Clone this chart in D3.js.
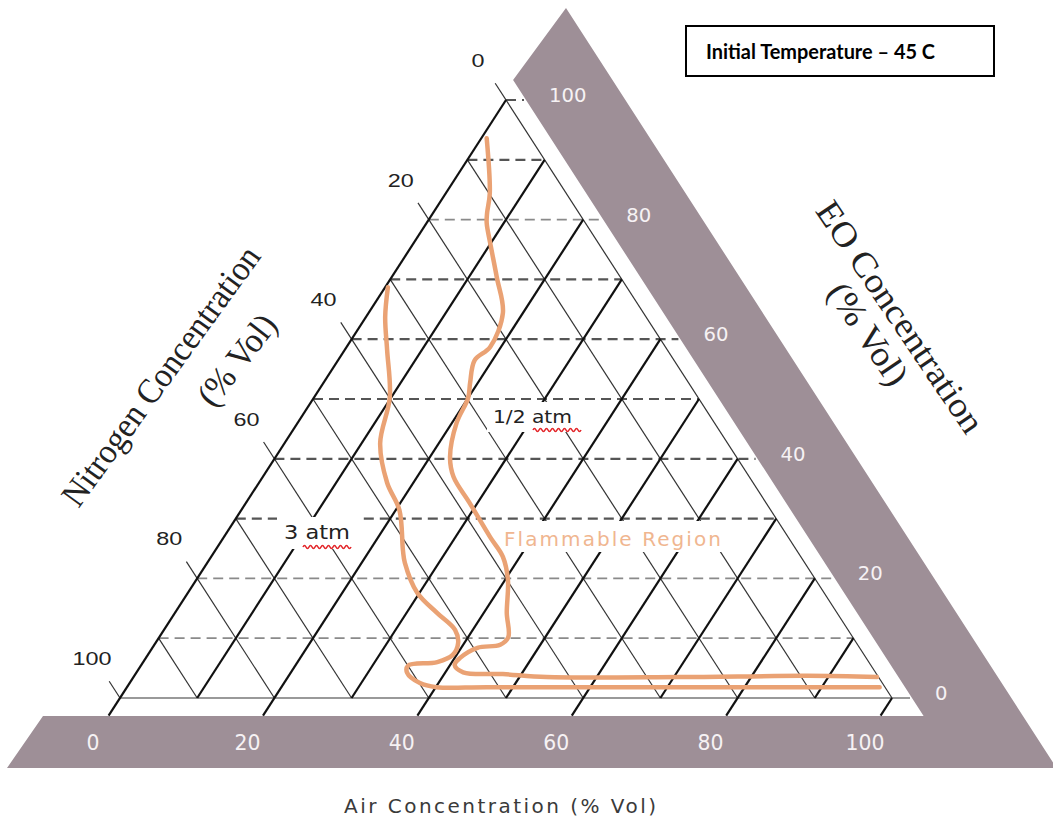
<!DOCTYPE html>
<html>
<head>
<meta charset="utf-8">
<script src="https://cdn.jsdelivr.net/npm/d3@7"></script>
<style>
  body { margin: 0; background: #fff; }
  svg { display: block; }
</style>
</head>
<body>
<svg id="chart" width="1053" height="820"></svg>
<script>
// ---- Axis ticks (% Vol) ----
const airTicks = [0, 20, 40, 60, 80, 100];
const eoTicks = [100, 80, 60, 40, 20, 0];
const nitrogenTicks = [0, 20, 40, 60, 80, 100];
const gridSteps = [0, 10, 20, 30, 40, 50, 60, 70, 80, 90, 100];

// ---- Flammability limit traces, as [air %, EO %]; nitrogen = 100 - air - EO ----
const halfAtmAir = [0.7, 5.7, 7.0, 7.8, 9.9, 13.6, 17.4, 18.6, 17.7, 19.0, 20.0, 20.6, 22.6, 24.7, 29.0, 34.5, 37.8, 40.4, 43.0, 45.2, 44.8, 42.1, 40.7, 40.6, 42.3, 47.6, 53.5, 70.8, 87.2, 96.3];
const halfAtmEO  = [93.6, 84.4, 81.1, 79.4, 76.1, 70.4, 64.4, 58.7, 56.5, 52.7, 50.2, 46.0, 40.3, 37.0, 32.6, 26.9, 23.6, 19.7, 14.2, 10.2, 8.9, 8.4, 6.7, 5.5, 4.3, 4.0, 3.5, 3.5, 3.7, 3.5];
const threeAtmAir = [0.35, 2.5, 5.5, 9.8, 12.4, 16.6, 20.5, 24.3, 25.6, 29.7, 34.0, 37.7, 39.2, 39.5, 38.1, 34.6, 35.1, 37.6, 40.1, 46.6, 67.7, 97.5];
const threeAtmEO  = [68.7, 63.7, 58.2, 50.3, 42.6, 36.0, 31.4, 24.7, 22.6, 17.6, 14.2, 11.4, 9.2, 7.2, 6.0, 5.4, 4.2, 2.5, 1.8, 1.8, 1.8, 1.8];

// ---- Labels ----
const titleText = "Initial Temperature \u2013 45 C";
const airTitle = "Air Concentration (% Vol)";
const nitrogenTitle = ["Nitrogen Concentration", "(% Vol)"];
const eoTitle = ["EO Concentration", "(% Vol)"];

const svg = d3.select("#chart");

// ---- Ternary frame ----
const baseY = 698, apexY = 100, leftX = 120, baseWidth = 772;
const xAir = d3.scaleLinear().domain([0, 100]).range([0, baseWidth]);
const yEO = d3.scaleLinear().domain([0, 100]).range([baseY, apexY]);
const pt = (a, e) => [leftX + xAir(a) + xAir(e) / 2, yEO(e)];

const apex = pt(0, 100), cornerL = pt(0, 0), cornerR = pt(100, 0);
const edgeLen = Math.hypot(apex[0] - cornerL[0], apex[1] - cornerL[1]);
const down = [(cornerL[0] - apex[0]) / edgeLen, (cornerL[1] - apex[1]) / edgeLen]; // along "/" downward
const upLeft = [(apex[0] - cornerR[0]) / edgeLen, (apex[1] - cornerR[1]) / edgeLen]; // along "\" upward
const tickLen = 21;
const slope = (baseWidth / 2) / (baseY - apexY);
const rightEdgeX = y => cornerR[0] - (baseY - y) * slope;

// ---- Grey bands carrying the air and EO scales ----
const bandColor = "#9e8f97";
const gap = 20;
const bandTop = 716, bandBottom = 768;
const outerTop = [566, 8];
const band = [
  [43, bandTop],
  [rightEdgeX(bandTop) + gap, bandTop],
  [rightEdgeX(80) + gap, 80],
  outerTop,
  [outerTop[0] + (bandBottom - outerTop[1]) * slope, bandBottom],
  [7, bandBottom]
];
svg.append("polygon")
  .attr("points", band.map(p => p.join(",")).join(" "))
  .attr("fill", bandColor);

// ---- Grid ----
const grid = svg.append("g").attr("fill", "none");
const seg = (p0, p1) => grid.append("line")
  .attr("x1", p0[0]).attr("y1", p0[1]).attr("x2", p1[0]).attr("y2", p1[1]);

// horizontal lines of constant EO
gridSteps.forEach(e => {
  const p0 = pt(0, e), p1 = pt(100 - e, e);
  const end = e % 20 === 0 ? [p1[0] + 18, p1[1]] : p1;
  const l = seg(e === 100 ? p1 : p0, end);
  if (e === 0) {
    l.attr("stroke", "#777").attr("stroke-width", 1.6);
  } else {
    const light = e === 10 || e === 20 || e === 80;
    l.attr("stroke", light ? "#8a8a8a" : "#555")
     .attr("stroke-width", light ? 1.8 : 2.2)
     .attr("stroke-dasharray", "10,6");
  }
});

// lines of constant nitrogen ("\")
gridSteps.forEach(n => {
  const top = pt(0, 100 - n), bottom = pt(100 - n, 0);
  const start = n % 20 === 0 ? [top[0] + upLeft[0] * tickLen * 0.95, top[1] + upLeft[1] * tickLen * 0.95] : top;
  seg(start, bottom).attr("stroke", "#333").attr("stroke-width", 1.2);
});

// lines of constant air ("/")
gridSteps.forEach(a => {
  const base = pt(a, 0), top = pt(a, 100 - a);
  const start = a % 20 === 0 ? [base[0] + down[0] * tickLen, base[1] + down[1] * tickLen] : base;
  seg(start, top).attr("stroke", "#111").attr("stroke-width", 2.2);
});

// ---- Tick labels ----
const numFont = "'DejaVu Sans', sans-serif";
nitrogenTicks.forEach(n => {
  const p = pt(0, 100 - n);
  const s = String(n);
  svg.append("text")
    .attr("x", p[0] - 28).attr("y", p[1] - 33)
    .attr("text-anchor", "middle")
    .attr("font-family", "'Liberation Sans', Arial, sans-serif")
    .attr("font-size", 19).attr("fill", "#222")
    .attr("textLength", s.length * 13).attr("lengthAdjust", "spacingAndGlyphs")
    .text(s);
});
eoTicks.forEach(e => {
  const p = pt(100 - e, e);
  const s = String(e);
  svg.append("text")
    .attr("x", p[0] + 43).attr("y", p[1] + 2)
    .attr("font-family", numFont).attr("font-size", 20)
    .attr("fill", "#f6f2f4")
    .attr("textLength", s.length * 12.5).attr("lengthAdjust", "spacingAndGlyphs")
    .text(s);
});
airTicks.forEach(a => {
  const p = pt(a, 0);
  const s = String(a);
  svg.append("text")
    .attr("x", p[0] - 27).attr("y", 750)
    .attr("text-anchor", "middle")
    .attr("font-family", numFont).attr("font-size", 21)
    .attr("fill", "#f6f2f4")
    .attr("textLength", s.length * 13).attr("lengthAdjust", "spacingAndGlyphs")
    .text(s);
});

// ---- Axis titles ----
svg.append("text")
  .attr("x", 500).attr("y", 813)
  .attr("text-anchor", "middle")
  .attr("font-family", numFont).attr("font-size", 20).attr("fill", "#3a3a3a")
  .attr("textLength", 312).attr("lengthAdjust", "spacing")
  .text(airTitle);

const serif = "'Liberation Serif', 'Times New Roman', serif";
const rotTitle = (txt, cx, cy, ang, len) => svg.append("text")
  .attr("transform", `translate(${cx},${cy}) rotate(${ang})`)
  .attr("text-anchor", "middle").attr("dominant-baseline", "central")
  .attr("font-family", serif).attr("font-size", 35).attr("fill", "#222")
  .attr("textLength", len).attr("lengthAdjust", "spacingAndGlyphs")
  .text(txt);
rotTitle(nitrogenTitle[0], 161, 376, -54, 312);
rotTitle(nitrogenTitle[1], 237, 360, -52, 106);
rotTitle(eoTitle[0], 900, 317, 56, 272);
rotTitle(eoTitle[1], 868, 334, 56, 116);

// ---- In-plot annotations on white backing ----
const backing = [[277, 517, 84, 32], [487, 402, 109, 30], [497, 521, 231, 31]];
backing.forEach(([x, y, w, h]) => svg.append("rect")
  .attr("x", x).attr("y", y).attr("width", w).attr("height", h).attr("fill", "#fff"));

const note = (txt, x, y, len, color, size, spacing) => svg.append("text")
  .attr("x", x).attr("y", y)
  .attr("font-family", numFont).attr("font-size", size).attr("fill", color)
  .attr("textLength", len).attr("lengthAdjust", spacing)
  .text(txt);
note("3 atm", 284, 539, 66, "#222", 19, "spacingAndGlyphs");
note("1/2 atm", 493, 423, 79, "#222", 18, "spacingAndGlyphs");
note("Flammable Region", 504, 546, 217, "#f0b690", 20, "spacing");

// red wavy underlines beneath "atm"
const squiggle = (x0, x1, y) => {
  const p = d3.path();
  p.moveTo(x0, y);
  let up = true;
  for (let x = x0; x + 3 <= x1; x += 3) {
    p.quadraticCurveTo(x + 1.5, y + (up ? -3 : 3), x + 3, y);
    up = !up;
  }
  svg.append("path").attr("d", p.toString())
    .attr("fill", "none").attr("stroke", "#e3262a").attr("stroke-width", 1.6);
};
squiggle(303, 351, 547);
squiggle(533, 581, 430);

// ---- Flammability boundaries ----
const curve = d3.line()
  .x(d => pt(d[0], d[1])[0])
  .y(d => pt(d[0], d[1])[1])
  .curve(d3.curveCatmullRom.alpha(0.5));
[[halfAtmAir, halfAtmEO], [threeAtmAir, threeAtmEO]].forEach(([air, eo]) => {
  svg.append("path")
    .attr("d", curve(d3.zip(air, eo)))
    .attr("fill", "none").attr("stroke", "#eaa274")
    .attr("stroke-width", 4.5)
    .attr("stroke-linecap", "round").attr("stroke-linejoin", "round");
});

// ---- Condition box ----
svg.append("rect")
  .attr("x", 686).attr("y", 26).attr("width", 308).attr("height", 50)
  .attr("fill", "#fff").attr("stroke", "#000").attr("stroke-width", 2);
svg.append("text")
  .attr("x", 706).attr("y", 59)
  .attr("font-family", "Lato, 'Open Sans', sans-serif").attr("font-weight", "bold")
  .attr("font-size", 20).attr("fill", "#000")
  .attr("textLength", 229).attr("lengthAdjust", "spacingAndGlyphs")
  .text(titleText);
</script>
</body>
</html>
